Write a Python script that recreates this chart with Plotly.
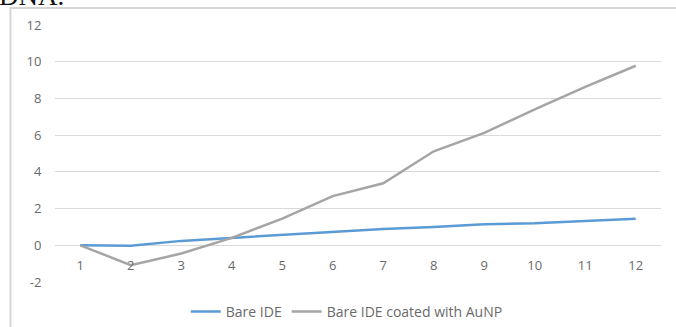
import plotly.graph_objects as go

W, H = 676, 327

categories = [1, 2, 3, 4, 5, 6, 7, 8, 9, 10, 11, 12]
bare_ide = [0.0, -0.02, 0.24, 0.40, 0.53, 0.72, 0.89, 1.00, 1.15, 1.20, 1.31, 1.44]
bare_ide_aunp = [0.0, -1.08, -0.45, 0.40, 1.45, 2.68, 3.38, 5.12, 6.12, 7.40, 8.63, 9.78]
y_ticks = [-2, 0, 2, 4, 6, 8, 10, 12]
grid_vals = [-2, 0, 2, 4, 6, 8, 10]
y_range = [-2, 12]

TEXT = "#6a6a6a"
FONT = "Open Sans"

# plot-area placement (pixels)
px_left, px_right = 55, 661
px_top, px_bottom = 25, 282
x_dom = [px_left / W, px_right / W]
y_dom = [(H - px_bottom) / H, (H - px_top) / H]
zero_pos = y_dom[0] + (0 - y_range[0]) / (y_range[1] - y_range[0]) * (y_dom[1] - y_dom[0])

fig = go.Figure()
fig.add_trace(go.Scatter(x=categories, y=bare_ide, mode="lines", name="Bare IDE",
                         line=dict(color="#5B9BD5", width=2.5)))
fig.add_trace(go.Scatter(x=categories, y=bare_ide_aunp, mode="lines",
                         name="Bare IDE coated with AuNP",
                         line=dict(color="#A5A5A5", width=2.5)))

fig.update_layout(
    width=W, height=H,
    margin=dict(l=0, r=0, t=0, b=0, autoexpand=False),
    paper_bgcolor="white", plot_bgcolor="white",
    font=dict(family=FONT, size=13, color=TEXT),
    xaxis=dict(domain=x_dom, range=[0.5, 12.5], tickvals=categories,
               anchor="free", position=zero_pos, showgrid=False, zeroline=False,
               showline=False, ticks="outside", ticklen=8, automargin=False,
               tickcolor="rgba(0,0,0,0)", tickfont=dict(size=13, color=TEXT)),
    yaxis=dict(domain=y_dom, range=y_range, tickvals=y_ticks,
               ticktext=[str(v) for v in y_ticks], showgrid=False,
               zeroline=False, showline=False, ticks="outside", ticklen=10,
               automargin=False,
               tickcolor="rgba(0,0,0,0)", tickfont=dict(size=13, color=TEXT)),
    yaxis2=dict(domain=y_dom, range=y_range, overlaying="y", tickvals=grid_vals,
                showgrid=True, gridcolor="#DADADA", gridwidth=1, automargin=False,
                showticklabels=False, zeroline=False, showline=False),
    legend=dict(orientation="h", x=0.513, xanchor="center", y=(H - 312) / H,
                yanchor="middle", font=dict(size=14, color=TEXT),
                itemwidth=30, bgcolor="rgba(0,0,0,0)"),
    showlegend=True,
)

# invisible trace to activate yaxis2 gridlines
fig.add_trace(go.Scatter(x=[None], y=[None], yaxis="y2", showlegend=False,
                         hoverinfo="skip"))

# chart frame
fig.add_shape(type="rect", xref="paper", yref="paper",
              x0=10.5 / W, x1=1.02, y0=-0.05, y1=(H - 8) / H,
              line=dict(color="#D6D6D6", width=2), fillcolor="rgba(0,0,0,0)",
              layer="below")

# cropped document text above the chart
fig.add_annotation(text="DNA.", xref="paper", yref="paper", x=-3 / W, y=(H - 13) / H,
                   xanchor="left", yanchor="bottom", showarrow=False,
                   font=dict(family="Liberation Serif", size=27, color="#111111"))

fig.write_html("out.html", config={"displayModeBar": False},
               post_script="document.body.style.margin='0';"
                           "document.body.style.overflow='hidden';")
